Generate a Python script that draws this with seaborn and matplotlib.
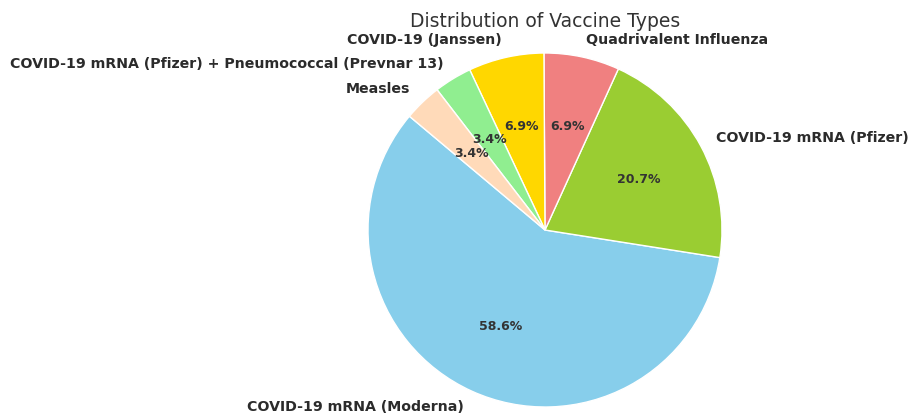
import matplotlib
matplotlib.use("Agg")
import matplotlib.pyplot as plt
import seaborn as sns

sns.set_theme(style="white")

labels = ["COVID-19 mRNA (Moderna)", "COVID-19 mRNA (Pfizer)", "Quadrivalent Influenza",
          "COVID-19 (Janssen)", "COVID-19 mRNA (Pfizer) + Pneumococcal (Prevnar 13)", "Measles"]
counts = [17, 6, 2, 2, 1, 1]
colors = ["skyblue", "yellowgreen", "lightcoral", "gold", "lightgreen", "peachpuff"]

W, H = 908, 413
fig = plt.figure(figsize=(W / 100, H / 100), dpi=100)
cx, cy, r = 545, 413 - 230, 177
ax = fig.add_axes([(cx - r) / W, (cy - r) / H, 2 * r / W, 2 * r / H])
wedges, texts, autotexts = ax.pie(
    counts, labels=labels, colors=colors, autopct="%1.1f%%", startangle=140,
    textprops={"fontsize": 10.2, "fontweight": "bold", "color": "#2b2b2b"},
)
for t in autotexts:
    t.set_fontsize(9)
    t.set_color("#333333")
ax.set_xlim(-1, 1)
ax.set_ylim(-1, 1)
ax.set_aspect("equal")
ax.set_title("Distribution of Vaccine Types", fontsize=13.5, color="#333333", pad=19)
fig.savefig("out.png", dpi=100)
